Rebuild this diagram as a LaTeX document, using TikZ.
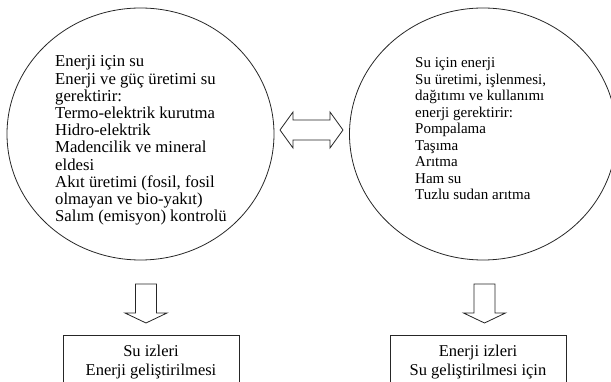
\documentclass[tikz,border=0pt]{standalone}
\usepackage{fontspec}
\setmainfont{Liberation Serif}
\usetikzlibrary{shapes.geometric}
\tikzset{
  outline/.style={draw=black!85, line width=0.8pt},
  bubble/.style={outline, ellipse, inner sep=0pt, minimum width=267pt, minimum height=252pt},
  bubbletext/.style={anchor=north west, inner sep=0pt, align=left},
  resultbox/.style={outline, rectangle, inner sep=0pt, anchor=north, minimum width=176pt, minimum height=70pt},
  boxtext/.style={anchor=north, inner sep=0pt, align=center, font=\fontsize{16.5}{19}\selectfont},
  blockarrow/.style={outline, fill=white, line join=miter}
}
\begin{document}
\begin{tikzpicture}[x=1pt,y=-1pt]
\useasboundingbox (0,0) rectangle (611,382);
\clip (0,0) rectangle (611,382);
% ellipses
\node[bubble] (leftE) at (140.5,134) {};
\node[bubble] (rightE) at (483,134) {};
% texts
\node[bubbletext, font=\fontsize{16.7}{17.2}\selectfont] (leftT) at (55,55.6) {Enerji için su\\Enerji ve güç üretimi su\\gerektirir:\\Termo-elektrik kurutma\\Hidro-elektrik\\Madencilik ve mineral\\eldesi\\Akıt üretimi (fosil, fosil\\olmayan ve bio-yakıt)\\Salım (emisyon) kontrolü};
\node[bubbletext, font=\fontsize{15}{16.5}\selectfont] (rightT) at (415,57.8) {Su için enerji\\Su üretimi, işlenmesi,\\dağıtımı ve kullanımı\\enerji gerektirir:\\Pompalama\\Taşıma\\Arıtma\\Ham su\\Tuzlu sudan arıtma};
% double arrow
\coordinate (dl) at (280,130);
\coordinate (dr) at (343,130);
\draw[blockarrow] (dl) -- ++(13,-18) -- ++(0,8) -- ++(37,0) -- ++(0,-8) -- (dr) -- ++(-13,18) -- ++(0,-8) -- ++(-37,0) -- ++(0,8) -- cycle;
% down arrows
\coordinate (la) at (146,284);
\coordinate (ra) at (484.5,284);
\foreach \c in {la,ra}{
  \draw[blockarrow] (\c) ++(-10.5,0) -- ++(21,0) -- ++(0,29) -- ++(10.5,0) -- ++(-21,10) -- ++(-21,-10) -- ++(10.5,0) -- cycle;
}
% boxes
\node[resultbox] (lbox) at (151,335) {};
\node[resultbox] (rbox) at (478,335) {};
\node[boxtext] (lboxT) at (151,344.7) {Su izleri\\Enerji geliştirilmesi};
\node[boxtext] (rboxT) at (478,344.7) {Enerji izleri\\Su geliştirilmesi için};
\end{tikzpicture}
\end{document}
